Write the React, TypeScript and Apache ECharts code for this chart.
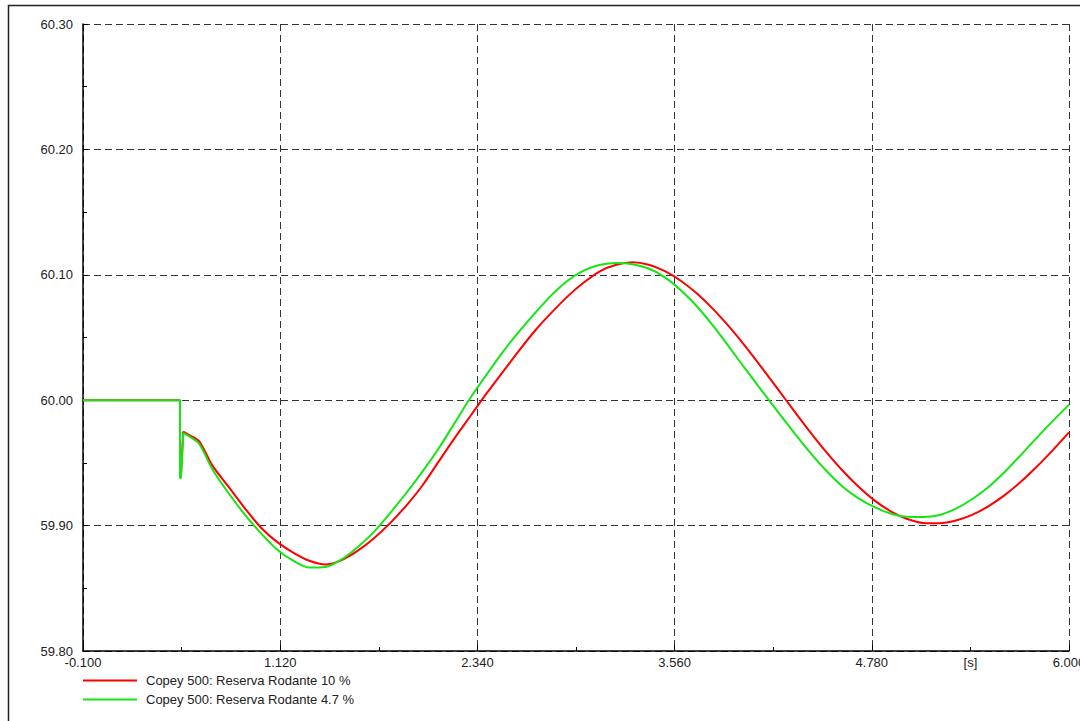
import React, { useEffect, useRef } from "react";
import * as echarts from "echarts";

const RED_NAME = "Copey 500: Reserva Rodante 10 %";
const GREEN_NAME = "Copey 500: Reserva Rodante 4.7 %";

// x tick labels (seconds)
const X_TICKS = [-0.1, 1.12, 2.34, 3.56, 4.78, 6.0];
const X_STEP = 1.22;
const X_MIN = -0.1;
const UNIT_LABEL_T = 5.39;
const UNIT_LABEL = "[s]";

// y axis
const Y_MIN = 59.8;
const Y_MAX = 60.3;
const Y_STEP = 0.1;

// pre-event + disturbance (unsmoothed)
const PRE_T = [-0.1, 0.5, 0.5, 0.506, 0.52];
const PRE_RED = [60.0, 60.0, 59.94, 59.94, 59.975];
const PRE_GREEN = [60.0, 60.0, 59.938, 59.938, 59.974];

// post-event red
const RED_T = [0.52, 0.56, 0.62, 0.7, 0.8, 0.9, 1.0, 1.1, 1.2, 1.3, 1.4, 1.5, 1.6, 1.7, 1.8, 1.9, 2.0, 2.1, 2.2, 2.3, 2.4, 2.5, 2.6, 2.7, 2.8, 2.9, 3.0, 3.1, 3.2, 3.3, 3.4, 3.5, 3.6, 3.7, 3.8, 3.9, 4.0, 4.1, 4.2, 4.3, 4.4, 4.5, 4.6, 4.7, 4.8, 4.9, 5.0, 5.1, 5.2, 5.3, 5.4, 5.5, 5.6, 5.7, 5.8, 5.9, 6.0];
const RED_V = [59.975, 59.972, 59.967, 59.948, 59.931, 59.914, 59.8985, 59.887, 59.8785, 59.872, 59.869, 59.8725, 59.88, 59.89, 59.902, 59.916, 59.932, 59.951, 59.97, 59.988, 60.006, 60.023, 60.04, 60.056, 60.07, 60.083, 60.094, 60.103, 60.108, 60.11, 60.108, 60.1029, 60.0951, 60.0848, 60.0724, 60.0582, 60.0425, 60.0258, 60.0086, 59.9913, 59.9744, 59.9584, 59.9437, 59.9307, 59.9197, 59.9112, 59.9053, 59.9021, 59.9018, 59.904, 59.9085, 59.9153, 59.9241, 59.9347, 59.9469, 59.9602, 59.9743];

// post-event green
const GREEN_T = [0.52, 0.56, 0.62, 0.7, 0.8, 0.9, 1.0, 1.1, 1.2, 1.3, 1.4, 1.5, 1.6, 1.7, 1.8, 1.9, 2.0, 2.1, 2.2, 2.3, 2.4, 2.5, 2.6, 2.7, 2.8, 2.9, 3.0, 3.1, 3.2, 3.3, 3.4, 3.5, 3.6, 3.7, 3.8, 3.9, 4.0, 4.1, 4.2, 4.3, 4.4, 4.5, 4.6, 4.7, 4.8, 4.9, 5.0, 5.1, 5.2, 5.3, 5.4, 5.5, 5.6, 5.7, 5.8, 5.9, 6.0];
const GREEN_V = [59.974, 59.971, 59.965, 59.945, 59.926, 59.909, 59.894, 59.881, 59.872, 59.8665, 59.867, 59.873, 59.883, 59.895, 59.91, 59.926, 59.943, 59.9615, 59.982, 60.0025, 60.021, 60.039, 60.055, 60.07, 60.084, 60.0955, 60.1035, 60.108, 60.1095, 60.1085, 60.105, 60.098, 60.0875, 60.0745, 60.059, 60.042, 60.0245, 60.0075, 59.9905, 59.974, 59.958, 59.9435, 59.931, 59.9215, 59.9145, 59.9095, 59.907, 59.9068, 59.9085, 59.9135, 59.921, 59.9305, 59.9425, 59.956, 59.97, 59.9835, 59.9965];

const RED = "#ff0000";
const GREEN = "#14e614";
const FONT = "'Liberation Sans', Arial, sans-serif";
const FS = 13;

const toU = (t: number) => (t - X_MIN) / X_STEP;
const pairs = (ts: number[], vs: number[]) => ts.map((t, i) => [toU(t), vs[i]]);

export default function App() {
  const ref = useRef<HTMLDivElement>(null);
  useEffect(() => {
    document.body.style.margin = "0";
    if (!ref.current) return;
    const chart = echarts.init(ref.current, null, { renderer: "svg" });
    const grid = { left: 83, top: 24, right: 11, bottom: 70, containLabel: false, outerBoundsMode: "none" };
    const dash = [7, 4];
    const option: any = {
      animation: false,
      backgroundColor: "#fff",
      grid,
      legend: {
        orient: "vertical",
        left: 83,
        top: 673,
        padding: 0,
        itemWidth: 54,
        itemHeight: 2,
        itemGap: 4,
        icon: "rect",
        data: [RED_NAME, GREEN_NAME],
        textStyle: { fontSize: FS, fontFamily: FONT, color: "#222", lineHeight: 15, padding: [0, 0, 0, 4] },
      },
      xAxis: {
        type: "value",
        min: 0,
        max: toU(X_TICKS[X_TICKS.length - 1]),
        interval: 1,
        axisLine: { show: true, onZero: false, lineStyle: { color: "#000", width: 1.5 } },
        axisTick: { show: true, inside: true, length: 6, lineStyle: { color: "#000" } },
        minorTick: { show: true, splitNumber: 2, length: 4, lineStyle: { color: "#000" } },
        axisLabel: {
          margin: 5,
          fontSize: FS,
          fontFamily: FONT,
          color: "#222",
          formatter: (u: number) => (u * X_STEP + X_MIN).toFixed(3),
        },
        splitLine: { show: true, lineStyle: { color: "#333", width: 1, type: dash } },
      },
      yAxis: {
        type: "value",
        min: Y_MIN,
        max: Y_MAX,
        interval: Y_STEP,
        axisLine: { show: true, lineStyle: { color: "#000", width: 1.5 } },
        axisTick: { show: true, inside: true, length: 5, lineStyle: { color: "#000" } },
        minorTick: { show: true, splitNumber: 2, length: 4, lineStyle: { color: "#000" } },
        axisLabel: {
          margin: 10,
          fontSize: FS,
          fontFamily: FONT,
          color: "#222",
          formatter: (v: number) => v.toFixed(2),
        },
        splitLine: { show: true, lineStyle: { color: "#333", width: 1, type: dash } },
      },
      series: [
        { name: RED_NAME, type: "line", data: pairs(PRE_T, PRE_RED), showSymbol: false, symbol: "none", lineStyle: { color: RED, width: 2 }, itemStyle: { color: RED } },
        { name: RED_NAME, type: "line", data: pairs(RED_T, RED_V), smooth: 0.3, showSymbol: false, symbol: "none", lineStyle: { color: RED, width: 2 }, itemStyle: { color: RED } },
        { name: GREEN_NAME, type: "line", data: pairs(PRE_T, PRE_GREEN), showSymbol: false, symbol: "none", lineStyle: { color: GREEN, width: 2 }, itemStyle: { color: GREEN } },
        { name: GREEN_NAME, type: "line", data: pairs(GREEN_T, GREEN_V), smooth: 0.3, showSymbol: false, symbol: "none", lineStyle: { color: GREEN, width: 2 }, itemStyle: { color: GREEN } },
      ],
    };
    chart.setOption(option);
    const ux = chart.convertToPixel({ xAxisIndex: 0 }, toU(UNIT_LABEL_T)) as number;
    const baseY = chart.convertToPixel({ yAxisIndex: 0 }, Y_MIN) as number;
    chart.setOption({
      graphic: [
        {
          type: "rect",
          silent: true,
          shape: { x: 8.5, y: 5.5, width: 1200, height: 900 },
          style: { fill: "none", stroke: "#222", lineWidth: 1.5 },
        },
        {
          type: "text",
          silent: true,
          x: ux,
          y: baseY + 5,
          style: { text: UNIT_LABEL, fontSize: FS, fontFamily: FONT, fill: "#222", align: "center", verticalAlign: "top" },
        },
      ],
    });
    return () => chart.dispose();
  }, []);
  return <div ref={ref} style={{ width: 1080, height: 721 }} />;
}
